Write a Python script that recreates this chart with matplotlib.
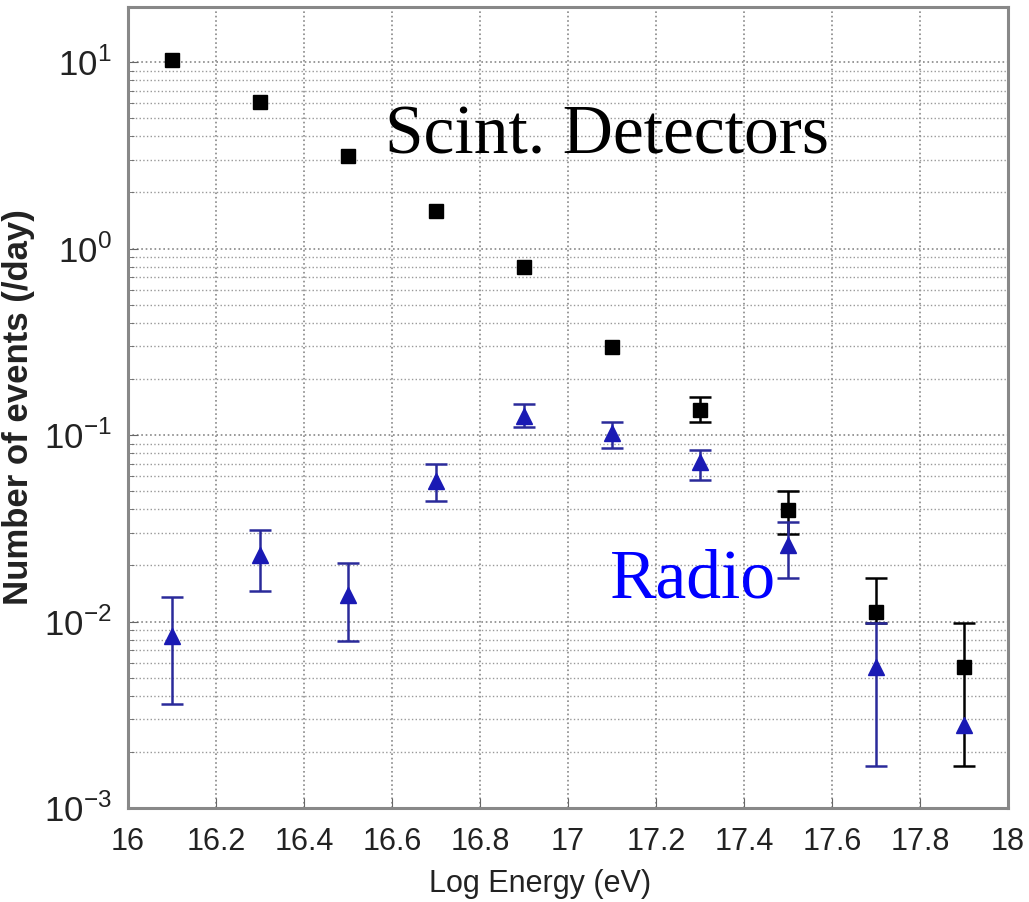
import matplotlib
matplotlib.use("Agg")
import matplotlib.pyplot as plt
import numpy as np
from matplotlib.ticker import LogLocator, NullFormatter

plt.rcParams['font.family'] = ['Liberation Sans', 'DejaVu Sans']
plt.rcParams['mathtext.fontset'] = 'custom'
plt.rcParams['mathtext.rm'] = 'Liberation Sans'

# log energy bins (eV)
energy = [16.1, 16.3, 16.5, 16.7, 16.9, 17.1, 17.3, 17.5, 17.7, 17.9]

# scintillator detector rates (/day) with lower/upper errors (0 = hidden by marker)
scint = [10.3, 6.07, 3.15, 1.58, 0.80, 0.298, 0.137, 0.0394, 0.0113, 0.00567]
scint_lo = [0.0, 0.0, 0.0, 0.0, 0.0, 0.0, 0.019, 0.0098, 0.0015, 0.0040]
scint_hi = [0.0, 0.0, 0.0, 0.0, 0.0, 0.0, 0.022, 0.011, 0.0059, 0.0041]

# radio rates (/day) with lower/upper errors
radio = [0.0084, 0.0226, 0.0138, 0.057, 0.127, 0.103, 0.0713, 0.0256, 0.00567, 0.00277]
radio_lo = [0.0048, 0.0081, 0.0059, 0.0125, 0.017, 0.018, 0.0136, 0.0084, 0.0040, 0.0]
radio_hi = [0.0051, 0.0083, 0.0069, 0.0133, 0.019, 0.015, 0.0123, 0.0084, 0.0041, 0.0]


def hide_zero(err):
    # zero-size error bars would still draw caps, so blank them out
    e = np.array(err, dtype=float)
    e[e == 0] = np.nan
    return e


fig = plt.figure(figsize=(10.29, 9.02), dpi=100)
ax = fig.add_axes([0.1244, 0.1042, 0.8552, 0.888])

ax.errorbar(energy, scint, yerr=[hide_zero(scint_lo), hide_zero(scint_hi)], fmt='s',
            color='black', markersize=10.5, capsize=8, elinewidth=1.8, capthick=1.8,
            zorder=3)
ax.errorbar(energy, radio, yerr=[hide_zero(radio_lo), hide_zero(radio_hi)], fmt='^',
            color='#1a1ab4', ecolor='#2a2a9a', markersize=11, capsize=8,
            elinewidth=1.8, capthick=1.8, zorder=4)

ax.set_yscale('log')
ax.set_xlim(16, 18)
ax.set_ylim(1e-3, 10**1.295)
ax.set_xticks([16, 16.2, 16.4, 16.6, 16.8, 17, 17.2, 17.4, 17.6, 17.8, 18])
ax.set_xticklabels(['16', '16.2', '16.4', '16.6', '16.8', '17', '17.2', '17.4',
                    '17.6', '17.8', '18'])
ax.set_yticks([1e-3, 1e-2, 1e-1, 1, 10])
ax.set_yticklabels(['$10^{-3}$', '$10^{-2}$', '$10^{-1}$', '$10^{0}$', '$10^{1}$'])
ax.yaxis.set_minor_locator(LogLocator(base=10, subs=range(2, 10), numticks=20))
ax.yaxis.set_minor_formatter(NullFormatter())

ax.grid(True, which='major', linestyle=':', color='#888888', linewidth=1.2)
ax.grid(True, which='minor', axis='y', linestyle=':', color='#999999', linewidth=1.0)
ax.tick_params(which='both', direction='in', labelsize=22, labelcolor='#222222',
               color='#666666', pad=14)
ax.tick_params(axis='y', which='major', labelsize=25, pad=12)
ax.tick_params(which='minor', length=4)
ax.tick_params(which='major', length=7)
for s in ax.spines.values():
    s.set_color('#888888')
    s.set_linewidth(2.2)

ax.set_xlabel('Log Energy (eV)', fontsize=22, color='#222222', labelpad=8, x=0.468)
ax.set_ylabel('Number of events (/day)', fontsize=25, fontweight='bold',
              color='#222222', labelpad=6)

ax.text(16.584, 4.0, 'Scint. Detectors', fontsize=50, family='Liberation Serif',
        color='black', va='center')
ax.text(17.095, 0.0165, 'Radio', fontsize=50, family='Liberation Serif',
        color='#0000ff', va='center')

fig.savefig('out.png', dpi=100)
